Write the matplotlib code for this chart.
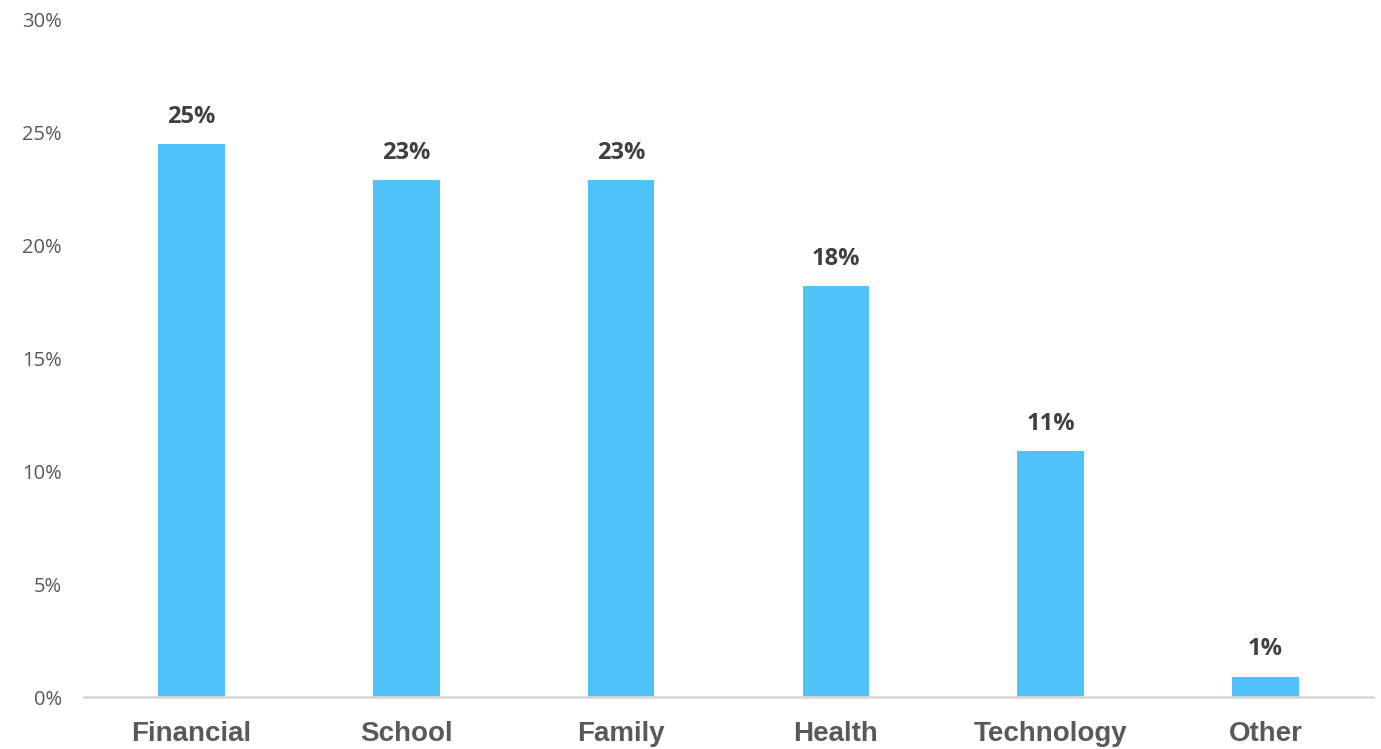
import matplotlib.pyplot as plt

# Chart data
categories = ['Financial', 'School', 'Family', 'Health', 'Technology', 'Other']
values = [24.5, 22.9, 22.9, 18.2, 10.9, 0.9]
labels = ['25%', '23%', '23%', '18%', '11%', '1%']
yticks = [0, 5, 10, 15, 20, 25, 30]

fig = plt.figure(figsize=(13.81, 7.49), dpi=100)
ax = fig.add_axes([0.0608, 0.0694, 0.9334, 0.9039])

x = range(len(categories))
bars = ax.bar(x, values, width=0.31, color='#4FC3F7', zorder=2)

# Value labels above bars
for b, lab in zip(bars, labels):
    ax.annotate(lab, (b.get_x() + b.get_width() / 2, b.get_height()),
                xytext=(0, 11), textcoords='offset points',
                ha='center', va='bottom', fontsize=17, fontweight='bold',
                color='#404040', family='Open Sans')

ax.set_xlim(-0.5, len(categories) - 0.5)
ax.set_ylim(0, 30)
ax.set_yticks(yticks)
ax.set_yticklabels([f'{t}%' for t in yticks], fontsize=14.5, color='#595959',
                   family='Open Sans')
ax.set_xticks(list(x))
ax.set_xticklabels(categories, fontsize=20, fontweight='bold', color='#595959',
                   family='Liberation Sans')

ax.tick_params(axis='y', length=0, pad=16)
ax.tick_params(axis='x', length=0, pad=17)

for s in ['top', 'right', 'left']:
    ax.spines[s].set_visible(False)
ax.spines['bottom'].set_color('#D9D9D9')
ax.spines['bottom'].set_linewidth(2)

fig.savefig('out.png', dpi=100)
